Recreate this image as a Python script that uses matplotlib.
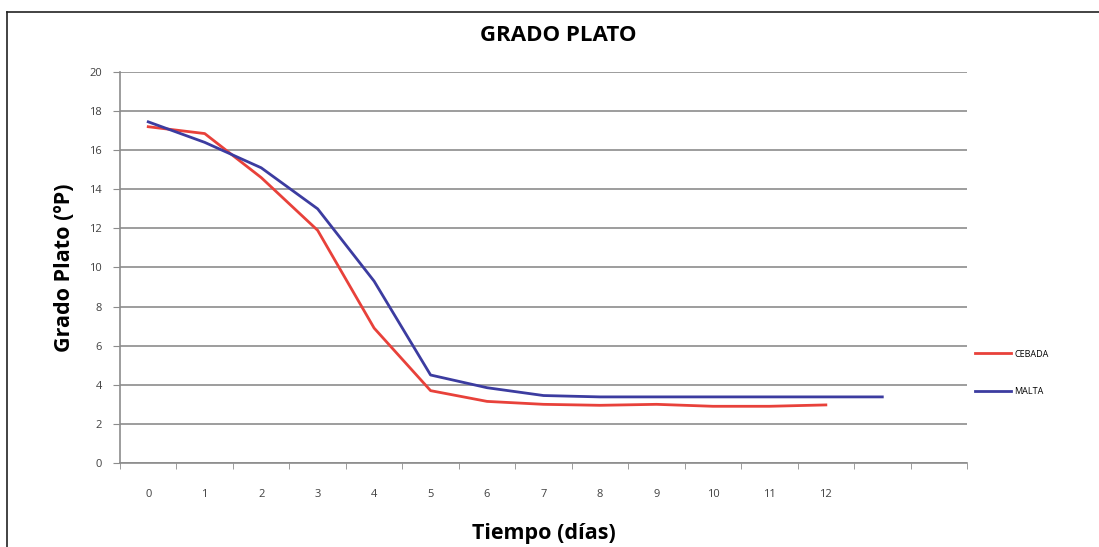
import matplotlib
matplotlib.use('Agg')
import matplotlib.pyplot as plt
from matplotlib.lines import Line2D
import numpy as np

# datos
dias = list(range(15))
etiquetas_x = [str(d) for d in range(13)] + ['', '']
cebada = [17.2, 16.85, 14.6, 11.9, 6.9, 3.7, 3.15, 3.0, 2.95, 3.0, 2.9, 2.9, 2.97]
malta = [17.45, 16.4, 15.1, 13.0, 9.3, 4.5, 3.85, 3.45, 3.38, 3.38, 3.38, 3.38, 3.38, 3.38]

plt.rcParams['font.family'] = ['Open Sans', 'DejaVu Sans']

fig = plt.figure(figsize=(10.99, 5.47), dpi=100)
ax = fig.add_axes([0.1092, 0.1536, 0.7707, 0.7148])

ax.plot(dias[:len(cebada)], cebada, color='#e8413a', lw=2, label='CEBADA')
ax.plot(dias[:len(malta)], malta, color='#3c3ca0', lw=2, label='MALTA')

ax.set_xlim(-0.5, 14.5)
ax.set_ylim(0, 20)
ax.set_yticks(np.arange(0, 21, 2))
ax.set_xticks(dias)
ax.set_xticklabels(etiquetas_x)
ax.set_xticks(np.arange(-0.5, 15, 1), minor=True)
ax.tick_params(axis='x', which='major', length=0, pad=19, labelsize=8, labelcolor='#404040')
ax.tick_params(axis='x', which='minor', length=4, color='#8c8c8c', direction='out')
ax.tick_params(axis='y', length=5, color='#8c8c8c', labelsize=8, labelcolor='#404040', pad=8)

ax.grid(axis='y', color='#8c8c8c', lw=1.2)
ax.set_axisbelow(True)
for s in ['top', 'right']:
    ax.spines[s].set_visible(False)
for s in ['left', 'bottom']:
    ax.spines[s].set_color('#8c8c8c')
    ax.spines[s].set_linewidth(1.2)

ax.set_ylabel('Grado Plato (ºP)', fontsize=15.5, fontweight='bold', labelpad=10)
ax.set_xlabel('Tiempo (días)', fontsize=15.5, fontweight='bold', labelpad=16)
fig.text(0.508, 0.936, 'GRADO PLATO', ha='center', va='center', fontsize=16, fontweight='bold')

ax.legend(loc='center left', bbox_to_anchor=(1.009, 0.23), frameon=False, fontsize=6.5,
          handlelength=4, handletextpad=0.4, labelspacing=3.2, borderpad=0, borderaxespad=0)

# marco de la imagen
fig.add_artist(Line2D([0.0064, 1.0], [0.978, 0.978], color='#222222', lw=1.2))
fig.add_artist(Line2D([0.0064, 0.0064], [0.0, 0.978], color='#222222', lw=1.2))

plt.savefig('out.png', dpi=100)
